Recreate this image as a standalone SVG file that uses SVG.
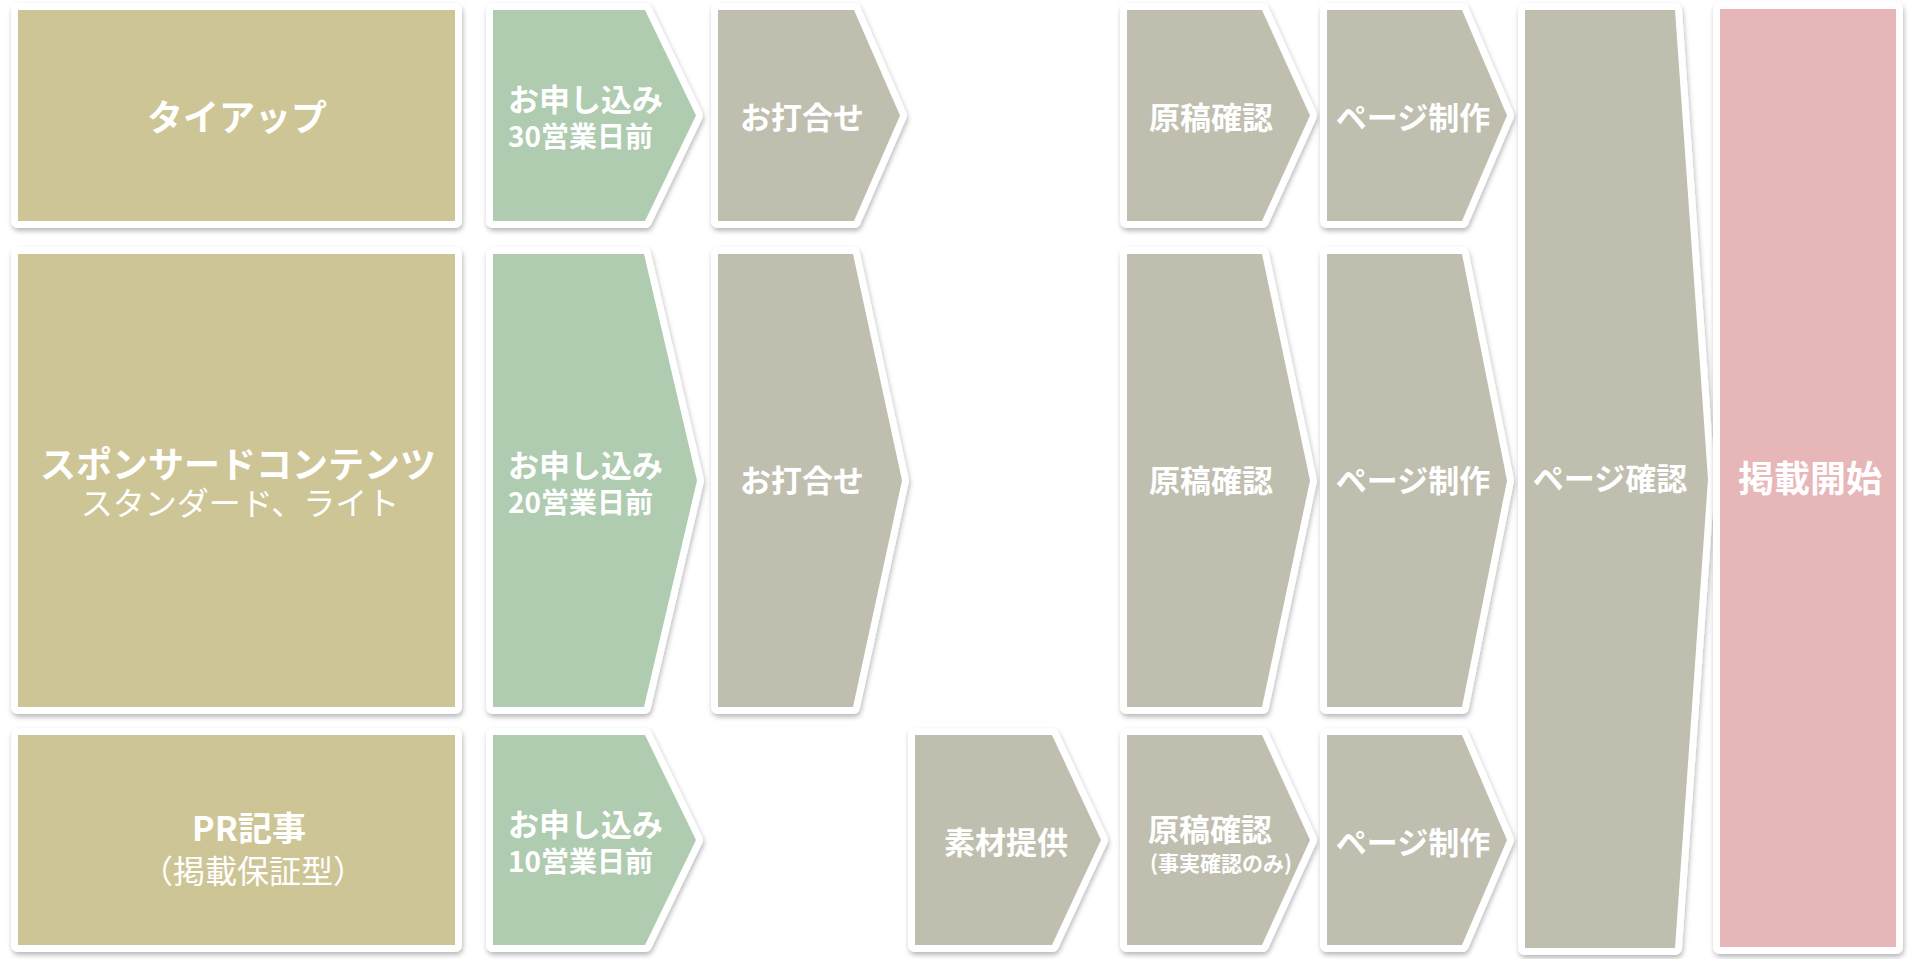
<svg xmlns="http://www.w3.org/2000/svg" width="1910" height="959" viewBox="0 0 1910 959">
  <defs>
    <filter id="sh" x="-10%" y="-10%" width="120%" height="120%">
      <feDropShadow dx="1" dy="3" stdDeviation="2.5" flood-color="#000" flood-opacity="0.28"/>
    </filter>
  </defs>
  <style>
    .shape { stroke: #ffffff; stroke-width: 14; stroke-linejoin: round; paint-order: stroke fill; filter: url(#sh); }
    .cat { fill: #CEC596; }
    .grn { fill: #AFCBB0; }
    .gry { fill: #C0BEAF; }
    .pnk { fill: #E7B6B8; }
    text { font-family: 'Noto Sans CJK JP', 'Noto Sans', sans-serif; fill: #ffffff; dominant-baseline: central; }
    .b36 { font-size: 36px; font-weight: 700; text-anchor: middle; }
    .b34 { font-size: 34px; font-weight: 700; text-anchor: middle; }
    .r32 { font-size: 32px; font-weight: 400; text-anchor: middle; }
    .b31 { font-size: 31px; font-weight: 700; text-anchor: middle; }
    .g31 { font-size: 31px; font-weight: 700; text-anchor: start; }
    .g28 { font-size: 28px; font-weight: 700; text-anchor: start; }
    .b21 { font-size: 21px; font-weight: 700; text-anchor: middle; }
  </style>
  <rect width="1910" height="959" fill="#ffffff"/>

  <g id="connectors"></g>

  <!-- Row 1: タイアップ -->
  <g id="cat-tieup">
    <rect class="shape cat" x="18" y="10" width="437" height="211"/>
    <text class="b36" x="237" y="115">タイアップ</text>
  </g>
  <g id="apply-30">
    <path class="shape grn" d="M493,10 H645 L696,115.5 L645,221 H493 Z"/>
    <text class="g31" x="508" y="97">お申し込み</text>
    <text class="g28" x="508" y="135">30営業日前</text>
  </g>
  <g id="meeting-1">
    <path class="shape gry" d="M718,10 H854 L900,115.5 L854,221 H718 Z"/>
    <text class="b31" x="802" y="115">お打合せ</text>
  </g>
  <g id="draft-1">
    <path class="shape gry" d="M1127,10 H1262 L1310,115.5 L1262,221 H1127 Z"/>
    <text class="b31" x="1211" y="115">原稿確認</text>
  </g>
  <g id="page-make-1">
    <path class="shape gry" d="M1327,10 H1462 L1507,115.5 L1462,221 H1327 Z"/>
    <text class="b31" x="1413" y="115">ページ制作</text>
  </g>

  <!-- Row 2: スポンサードコンテンツ -->
  <g id="cat-sponsored">
    <rect class="shape cat" x="18" y="254" width="437" height="453"/>
    <text class="b36" x="238" y="462">スポンサードコンテンツ</text>
    <text class="r32" x="240" y="501">スタンダード、ライト</text>
  </g>
  <g id="apply-20">
    <path class="shape grn" d="M493,254 H644 L697,480.5 L644,707 H493 Z"/>
    <text class="g31" x="508" y="463">お申し込み</text>
    <text class="g28" x="508" y="501">20営業日前</text>
  </g>
  <g id="meeting-2">
    <path class="shape gry" d="M718,254 H853 L902,480.5 L853,707 H718 Z"/>
    <text class="b31" x="802" y="478">お打合せ</text>
  </g>
  <g id="draft-2">
    <path class="shape gry" d="M1127,254 H1262 L1310,480.5 L1262,707 H1127 Z"/>
    <text class="b31" x="1211" y="478">原稿確認</text>
  </g>
  <g id="page-make-2">
    <path class="shape gry" d="M1327,254 H1462 L1507,480.5 L1462,707 H1327 Z"/>
    <text class="b31" x="1413" y="478">ページ制作</text>
  </g>

  <!-- Row 3: PR記事 -->
  <g id="cat-pr">
    <rect class="shape cat" x="18" y="735" width="437" height="210"/>
    <text class="b34" x="249" y="826">PR記事</text>
    <text class="r32" x="253" y="869">（掲載保証型）</text>
  </g>
  <g id="apply-10">
    <path class="shape grn" d="M493,735 H645 L696,840 L645,945 H493 Z"/>
    <text class="g31" x="508" y="822">お申し込み</text>
    <text class="g28" x="508" y="860">10営業日前</text>
  </g>
  <g id="material">
    <path class="shape gry" d="M915,735 H1052 L1101,840 L1052,945 H915 Z"/>
    <text class="b31" x="1006" y="840">素材提供</text>
  </g>
  <g id="draft-3">
    <path class="shape gry" d="M1127,735 H1262 L1310,840 L1262,945 H1127 Z"/>
    <text class="b31" x="1210" y="827">原稿確認</text>
    <text class="b21" x="1221" y="862">(事実確認のみ)</text>
  </g>
  <g id="page-make-3">
    <path class="shape gry" d="M1327,735 H1462 L1507,840 L1462,945 H1327 Z"/>
    <text class="b31" x="1413" y="840">ページ制作</text>
  </g>

  <!-- Shared columns -->
  <g id="page-check">
    <path class="shape gry" d="M1525,10 H1675 L1708,479 L1675,948 H1525 Z"/>
    <text class="b31" x="1610" y="476">ページ確認</text>
  </g>
  <g id="publish">
    <rect class="shape pnk" x="1720" y="9" width="176" height="938"/>
    <text class="b36" x="1810" y="476">掲載開始</text>
  </g>
</svg>
